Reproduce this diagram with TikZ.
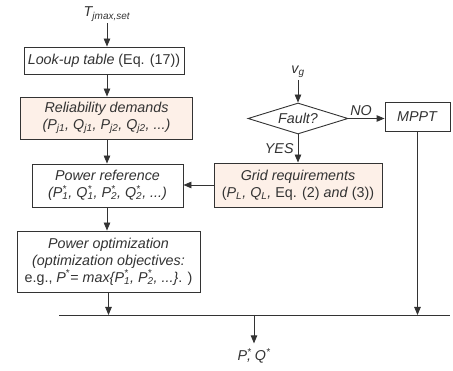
\documentclass[tikz,border=0pt]{standalone}
\usepackage{fontspec}
\setmainfont{Liberation Sans}
\usetikzlibrary{shapes.geometric, arrows.meta, positioning}
\definecolor{ink}{RGB}{51,51,51}
\definecolor{reqfill}{RGB}{253,240,232}
\newcommand{\sub}[1]{\textsubscript{#1}}
\newcommand{\st}[1]{\makebox[0pt][l]{\textsuperscript{*}}\textsubscript{#1}}

\begin{document}
\begin{tikzpicture}[
    x=1pt, y=-1pt,
    font=\fontsize{14.3}{17}\selectfont,
    box/.style={rectangle, draw=ink, line width=0.9pt, fill=white, text=ink,
                align=center, inner sep=0pt},
    reqbox/.style={box, fill=reqfill},
    dec/.style={diamond, draw=ink, line width=0.9pt, fill=white, text=ink,
                aspect=3, inner sep=0pt, minimum width=100pt, minimum height=31pt},
    lbl/.style={inner sep=2pt, text=ink},
    flow/.style={-{Triangle[length=8pt, width=6.5pt]}, draw=ink, line width=0.9pt},
    bus/.style={draw=ink, line width=0.9pt}
  ]
    \useasboundingbox (0,0) rectangle (453,371);

    % left column
    \node[lbl] (t) at (107,14) {\textit{T\sub{jmax,set}}};
    \node[box, minimum width=160pt, minimum height=27pt] (lut) at (104,60.5)
      {\textit{Look-up table} (Eq. (17))};
    \node[reqbox, minimum width=172pt, minimum height=42pt] (rd) at (106.5,118)
      {\textit{Reliability demands}\\ \textit{(P\sub{j1}, Q\sub{j1}, P\sub{j2}, Q\sub{j2}, ...)}};
    \node[box, minimum width=151pt, minimum height=43pt] (pr) at (107.5,185.5)
      {\textit{Power reference}\\ \textit{(P\st{1}, Q\st{1}, P\st{2}, Q\st{2}, ...)}};
    \node[box, minimum width=183pt, minimum height=61pt] (po) at (108.5,261.5)
      {\textit{Power optimization}\\ \textit{(optimization objectives:}\\
       e.g., \textit{P}\textsuperscript{*}= \textit{max\{P\st{1}, P\st{2}, ...\}}. )};

    % right column
    \node[lbl] (vg) at (298,72) {\textit{v\sub{g}}};
    \node[dec] (f) at (298,118.5) {\textit{Fault?}};
    \node[box, minimum width=65pt, minimum height=29pt] (mppt) at (417.5,116.5) {\textit{MPPT}};
    \node[reqbox, minimum width=168pt, minimum height=44pt] (gr) at (298,185)
      {\textit{Grid requirements}\\ (\textit{P\sub{L}, Q\sub{L},} Eq. (2) \textit{and} (3))};

    % output bus
    \coordinate (busL) at (59,315);
    \coordinate (busR) at (450,315);
    \coordinate (tap) at (254,315);
    \node[lbl] (out) at (254,356) {\textit{P\makebox[0pt][l]{\textsuperscript{*}},\ Q\textsuperscript{*}}};

    \draw[flow] (t.south) -- (t.south |- lut.north);
    \draw[flow] (lut.south -| t) -- (rd.north -| t);
    \draw[flow] (rd.south -| t) -- (pr.north -| t);
    \draw[flow] (pr.south -| t) -- (po.north -| t);
    \draw[flow] (po.south) -- (po.south |- busL);

    \draw[flow] (vg) -- (f.north);
    \draw[flow] (f.east) -- node[lbl, above, pos=0.35]{\textit{NO}} (f.east -| mppt.west);
    \draw[flow] (f.south) -- node[lbl, left, inner sep=4pt]{\textit{YES}} (gr.north);
    \draw[flow] (gr.west) -- (gr.west -| pr.east);
    \draw[flow] (mppt.south) -- (mppt.south |- busL);

    \draw[bus] (busL) -- (busR);
    \draw[flow, shorten >=3pt] (tap) -- (out.north);
  \end{tikzpicture}
\end{document}
